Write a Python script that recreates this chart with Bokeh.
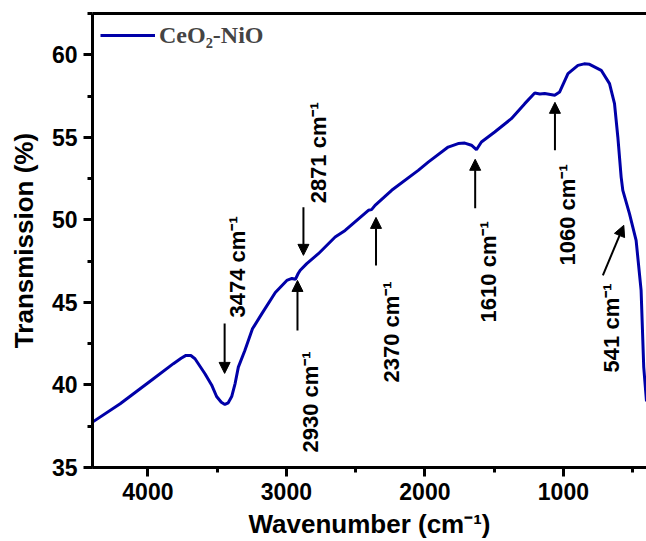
import math
from bokeh.plotting import figure
from bokeh.models import (Range1d, LinearAxis, SingleIntervalTicker, FixedTicker, Arrow, NormalHead,
                          ColumnDataSource, Legend, LegendItem)
from bokeh.core.properties import value
from bokeh.embed import file_html
from bokeh.resources import INLINE

# ---- data -------------------------------------------------------------------
wavenumber = [4400, 4200, 3960, 3816, 3760, 3725, 3690, 3660, 3588, 3540, 3504, 3470, 3444,
              3420, 3395, 3370, 3347, 3300,
              3245, 3177, 3080, 2997, 2960, 2935, 2915, 2900, 2853, 2769, 2648, 2576,
              2408, 2385, 2360, 2240, 2048, 1976, 1832, 1760, 1712, 1664, 1628, 1592,
              1496, 1376, 1279, 1207, 1170, 1135, 1063, 1027, 967, 895, 850, 811, 727,
              667, 631, 607, 583, 571, 523, 475, 439, 420, 400]
transmission = [37.75, 38.86, 40.38, 41.29, 41.62, 41.79, 41.78, 41.59, 40.68, 40.00, 39.30, 38.95, 38.82,
                38.92, 39.30, 40.10, 41.08, 42.09,
                43.40, 44.32, 45.60, 46.33, 46.45, 46.40, 46.75, 46.95, 47.35, 47.95, 48.96, 49.36,
                50.58, 50.62, 50.88, 51.79, 53.00, 53.50, 54.41, 54.62, 54.65, 54.52, 54.25, 54.72,
                55.32, 56.13, 57.04, 57.68, 57.62, 57.65, 57.55, 57.75, 58.86, 59.36, 59.45, 59.42, 59.06,
                58.25, 57.04, 55.02, 52.59, 51.79, 50.38, 48.76, 45.73, 41.08, 39.0]

series_name = "CeO\u2082-NiO"

peak_labels = ["3474 cm\u207b\u00b9", "2871 cm\u207b\u00b9", "2930 cm\u207b\u00b9", "2370 cm\u207b\u00b9",
               "1610 cm\u207b\u00b9", "1060 cm\u207b\u00b9", "541 cm\u207b\u00b9"]
label_x = [3352, 2769, 2826, 2243, 1544, 968, 651]
label_y = [44.09, 51.0, 35.91, 40.15, 43.79, 47.24, 40.76]
arrow_x0 = [3446, 2877, 2920, 2353, 1637, 1061, 715]
arrow_y0 = [43.73, 50.76, 43.30, 47.24, 50.70, 54.21, 46.64]
arrow_x1 = [3446, 2877, 2920, 2353, 1637, 1061, 564]
arrow_y1 = [40.70, 47.85, 46.33, 50.15, 53.67, 57.12, 49.67]

x_ticks_interval = 1000
y_ticks_interval = 5

# ---- figure -----------------------------------------------------------------
FONT = "Liberation Sans"
p = figure(width=646, height=541, output_backend="svg", toolbar_location=None,
           x_range=Range1d(4400, 400), y_range=Range1d(35, 62.5),
           min_border_left=92, min_border_right=0, min_border_top=13, min_border_bottom=74)
p.outline_line_color = None
p.grid.visible = False
p.background_fill_color = "white"
p.border_fill_color = "white"

xa = p.below[0]
ya = p.left[0]
xa.ticker = SingleIntervalTicker(interval=x_ticks_interval, num_minor_ticks=2)
ya.ticker = SingleIntervalTicker(interval=y_ticks_interval, num_minor_ticks=2)
for ax in (xa, ya):
    ax.axis_line_width = 3
    ax.axis_line_color = "black"
    ax.major_tick_line_width = 3
    ax.minor_tick_line_width = 3
    ax.major_tick_in = 0
    ax.major_tick_out = 9
    ax.minor_tick_in = 0
    ax.minor_tick_out = 5
    ax.major_label_text_font = FONT
    ax.major_label_text_font_style = "bold"
    ax.major_label_text_font_size = "23px"
    ax.major_label_text_color = "black"
    ax.axis_label_text_font = FONT
    ax.axis_label_text_font_style = "bold"
    ax.axis_label_text_font_size = "26px"
    ax.axis_label_text_color = "black"
xa.major_label_standoff = 6
xa.axis_label_standoff = 6
ya.major_label_standoff = 6
ya.axis_label_standoff = 10
xa.axis_label = "Wavenumber (cm\u207b\u00b9)"
ya.axis_label = "Transmission (%)"

top = LinearAxis(ticker=FixedTicker(ticks=[]), major_tick_line_color=None,
                 minor_tick_line_color=None, major_label_standoff=0,
                 major_tick_out=0, minor_tick_out=0, axis_line_width=3)
p.add_layout(top, "above")

# ---- curve ------------------------------------------------------------------
src = ColumnDataSource(dict(x=wavenumber, y=transmission))
r = p.line("x", "y", source=src, line_color="#0000A8", line_width=3)

legend = Legend(items=[LegendItem(label=series_name, renderers=[r])], location="top_left")
legend.margin = 8
legend.padding = 10
legend.glyph_width = 55
legend.glyph_height = 28
legend.label_height = 28
legend.label_standoff = 4
legend.label_text_font = "Liberation Serif"
legend.label_text_font_style = "bold"
legend.label_text_font_size = "24px"
legend.background_fill_alpha = 0
legend.border_line_color = None
p.add_layout(legend)

# ---- peak annotations -------------------------------------------------------
lab_src = ColumnDataSource(dict(x=label_x, y=label_y, t=peak_labels))
p.text(x="x", y="y", text="t", source=lab_src, angle=math.pi / 2,
       text_align="left", text_baseline="middle", text_font=value(FONT),
       text_font_style="bold", text_font_size="22px", text_color="black")

arr_src = ColumnDataSource(dict(x0=arrow_x0, y0=arrow_y0, x1=arrow_x1, y1=arrow_y1))
p.add_layout(Arrow(source=arr_src, x_start="x0", y_start="y0", x_end="x1", y_end="y1",
                   line_width=2, line_color="black",
                   end=NormalHead(size=11, fill_color="black", line_color="black", line_width=1)))

open("out.html", "w").write(file_html(p, INLINE))
